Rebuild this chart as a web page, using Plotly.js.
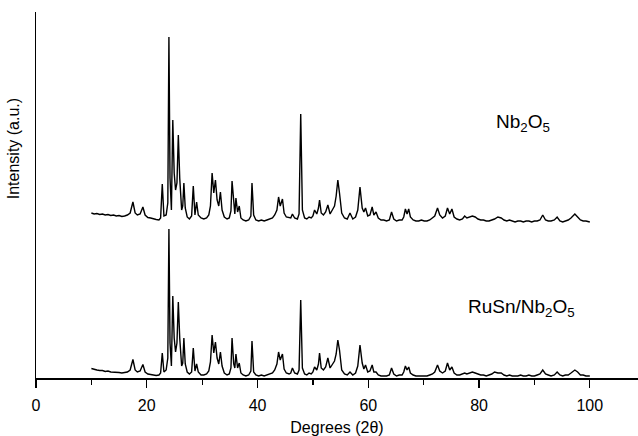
<!DOCTYPE html>
<html>
<head>
<meta charset="utf-8">
<script src="https://cdn.plot.ly/plotly-3.0.1.min.js"></script>
<style>html,body{margin:0;padding:0;background:#fff;}#chart{width:638px;height:436px;}</style>
</head>
<body>
<div id="chart"></div>
<script>
// 2-theta positions (degrees)
var twoTheta = [
  10.0, 10.5, 11.0, 11.5, 12.0, 12.5, 13.0, 13.5, 14.0, 14.5,
  15.0, 15.5, 16.0, 16.5, 17.0, 17.5, 17.9, 18.3, 18.8, 19.3,
  19.7, 20.2, 20.7, 21.2, 21.7, 22.2, 22.5, 22.8, 23.1, 23.5,
  23.8, 24.0, 24.2, 24.45, 24.7, 24.95, 25.2, 25.45, 25.7, 25.95,
  26.3, 26.5, 26.7, 26.95, 27.3, 27.7, 28.1, 28.4, 28.7, 29.0,
  29.3, 29.8, 30.3, 30.8, 31.2, 31.5, 31.8, 32.1, 32.4, 32.7,
  33.0, 33.3, 33.6, 34.0, 34.5, 34.9, 35.2, 35.4, 35.7, 35.9,
  36.1, 36.4, 36.7, 37.0, 37.4, 37.9, 38.4, 38.8, 39.0, 39.3,
  39.7, 40.2, 40.7, 41.2, 41.7, 42.2, 42.7, 43.1, 43.5, 43.8,
  44.1, 44.5, 44.8, 45.2, 45.7, 46.0, 46.3, 46.7, 47.2, 47.5,
  47.8, 48.1, 48.5, 48.9, 49.3, 49.7, 50.0, 50.3, 50.7, 51.0,
  51.2, 51.5, 51.9, 52.3, 52.7, 53.1, 53.5, 53.9, 54.2, 54.5,
  54.8, 55.2, 55.7, 56.2, 56.7, 57.2, 57.7, 58.1, 58.5, 58.9,
  59.2, 59.5, 59.9, 60.3, 60.7, 61.0, 61.4, 61.8, 62.3, 62.8,
  63.3, 63.8, 64.2, 64.6, 65.1, 65.6, 66.1, 66.4, 66.7, 67.0,
  67.3, 67.6, 68.1, 68.6, 69.1, 69.6, 70.1, 70.6, 71.1, 71.6,
  72.0, 72.5, 72.9, 73.4, 73.9, 74.3, 74.7, 75.1, 75.5, 76.0,
  76.5, 77.0, 77.4, 77.8, 78.3, 78.8, 79.3, 79.8, 80.3, 80.8,
  81.3, 81.8, 82.3, 82.8, 83.4, 84.0, 84.5, 85.0, 85.5, 86.0,
  86.5, 87.0, 87.5, 88.0, 88.5, 89.0, 89.5, 90.0, 90.5, 91.0,
  91.5, 92.0, 92.5, 93.0, 93.6, 94.1, 94.6, 95.1, 95.6, 96.1,
  96.6, 97.3, 97.8, 98.3, 98.8, 99.3, 100.0
];

// Nb2O5 pattern (offset upward, a.u.)
var intensityNb2O5 = [
  165, 164, 164.5, 163.5, 164, 163, 163.5, 162.5, 163, 162,
  162.5, 161.5, 162, 163, 165, 176, 165, 163, 164, 171,
  163, 160.5, 160, 159, 158.5, 158, 160, 194, 162, 163,
  175, 341, 200, 168, 258, 205, 188, 195, 243, 200,
  168, 172, 195, 170, 161, 159, 162, 192, 163, 176,
  163, 160, 159, 160, 163, 172, 205, 185, 198, 178,
  172, 186, 168, 161, 159, 160, 167, 197, 170, 164,
  180, 166, 172, 160, 158, 157, 158, 162, 195, 163,
  158, 157, 158, 157, 158, 159, 160, 163, 168, 181,
  172, 179, 165, 161, 160, 160, 164, 160, 159, 164,
  264, 168, 160, 159, 161, 160, 162, 168, 164, 170,
  178, 165, 163, 166, 173, 164, 168, 172, 182, 198,
  185, 165, 160, 159, 165, 159, 161, 168, 191, 170,
  166, 170, 162, 163, 171, 163, 166, 160, 158, 158,
  157, 158, 166, 159, 157, 158, 158, 161, 169, 164,
  169, 161, 158, 157, 157, 158, 157, 157, 158, 160,
  162, 170, 163, 160, 162, 170, 164, 169, 161, 159,
  158, 159, 162, 160, 161, 162, 161, 159, 158, 158,
  157, 157, 158, 159, 161, 160, 158, 157, 158, 157,
  156, 157, 157, 156, 157, 157, 156, 157, 157, 158,
  163, 158, 157, 157, 158, 161, 157, 156, 157, 158,
  160, 164, 161, 158, 157, 157, 156
];

// RuSn/Nb2O5 pattern (a.u.)
var intensityRuSn = [
  9.5, 8.5, 8, 7.5, 7.5, 6.5, 7, 6, 6, 5.5,
  5.5, 5, 5.5, 6, 8, 18.5, 8, 6, 7, 13.5,
  6, 4, 3.5, 3, 2.5, 3, 5, 25, 6, 8,
  20, 149, 35, 12, 82, 40, 26, 35, 76, 40,
  12, 15, 40, 14, 6, 4, 6, 30, 7, 14,
  6, 3, 3, 4, 7, 16, 43, 25, 36, 20,
  14, 26, 12, 5, 3, 4, 10, 40, 14, 10,
  24, 10, 15, 5, 3, 2, 3, 7, 37, 6,
  3, 2, 3, 2, 3, 4, 5, 8, 14, 26,
  18, 24, 9, 5, 4, 5, 10, 5, 4, 8,
  78, 10, 4, 3, 5, 4, 6, 11, 8, 14,
  25, 10, 8, 11, 20, 10, 13, 17, 24, 38,
  28, 8, 4, 3, 6, 3, 5, 12, 33, 15,
  9, 13, 6, 7, 13, 6, 6, 3, 2, 2,
  2, 3, 10, 4, 2, 3, 3, 6, 12, 8,
  11, 5, 3, 2, 2, 2, 2, 2, 3, 4,
  6, 13, 7, 5, 7, 15, 8, 11, 5, 3,
  3, 4, 5, 4, 5, 6, 5, 4, 3, 3,
  2, 3, 4, 6, 5, 5, 3, 2, 3, 2,
  2, 2, 3, 2, 2, 3, 2, 2, 3, 4,
  8, 4, 3, 2, 3, 6, 3, 2, 3, 3,
  5, 8, 6, 3, 3, 2, 2
];

var xTicks = [0, 20, 40, 60, 80, 100];
var xTickText = ['0', '20', '40', '60', '80', '100'];

var FONT = 'Liberation Sans, Arial, Helvetica, sans-serif';

var traces = [
  {x: twoTheta, y: intensityNb2O5, type: 'scatter', mode: 'lines', name: 'Nb2O5',
   line: {color: '#000', width: 1.4}, hoverinfo: 'x+y'},
  {x: twoTheta, y: intensityRuSn, type: 'scatter', mode: 'lines', name: 'RuSn/Nb2O5',
   line: {color: '#000', width: 1.4}, hoverinfo: 'x+y'}
];

var layout = {
  width: 638, height: 436,
  margin: {l: 36, r: 0, t: 12, b: 58, pad: 0},
  paper_bgcolor: '#fff', plot_bgcolor: '#fff',
  showlegend: false,
  font: {family: FONT, color: '#000', size: 16},
  xaxis: {
    range: [0, 108.7], fixedrange: true,
    showline: true, linecolor: '#000', linewidth: 1.5,
    showgrid: false, zeroline: false,
    tickmode: 'array', tickvals: xTicks, ticktext: xTickText,
    ticks: 'outside', ticklen: 8, tickwidth: 1.3, tickcolor: '#000',
    ticklabelstandoff: 4,
    tickfont: {family: FONT, size: 16, color: '#000'},
    minor: {dtick: 10, tick0: 0, ticks: 'outside', ticklen: 5, tickwidth: 1.2, tickcolor: '#000', showgrid: false},
    title: {text: 'Degrees (2θ)', font: {family: FONT, size: 16, color: '#000'}, standoff: 10}
  },
  yaxis: {
    range: [0, 366], fixedrange: true,
    showline: true, linecolor: '#000', linewidth: 1.5,
    showgrid: false, zeroline: false,
    ticks: '', showticklabels: false
  },
  annotations: [
    {text: 'Intensity (a.u.)', xref: 'paper', yref: 'paper', x: -23/602, y: 0.625,
     textangle: -90, showarrow: false, font: {family: FONT, size: 16, color: '#000'},
     xanchor: 'center', yanchor: 'middle'},
    {text: 'Nb<sub>2</sub>O<sub>5</sub>', xref: 'x', yref: 'y', x: 87.9, y: 255,
     showarrow: false, font: {family: FONT, size: 19, color: '#000'}, xanchor: 'center', yanchor: 'middle'},
    {text: 'RuSn/Nb<sub>2</sub>O<sub>5</sub>', xref: 'x', yref: 'y', x: 87.7, y: 70,
     showarrow: false, font: {family: FONT, size: 19, color: '#000'}, xanchor: 'center', yanchor: 'middle'}
  ]
};

Plotly.newPlot('chart', traces, layout, {staticPlot: true, displayModeBar: false});
</script>
</body>
</html>
